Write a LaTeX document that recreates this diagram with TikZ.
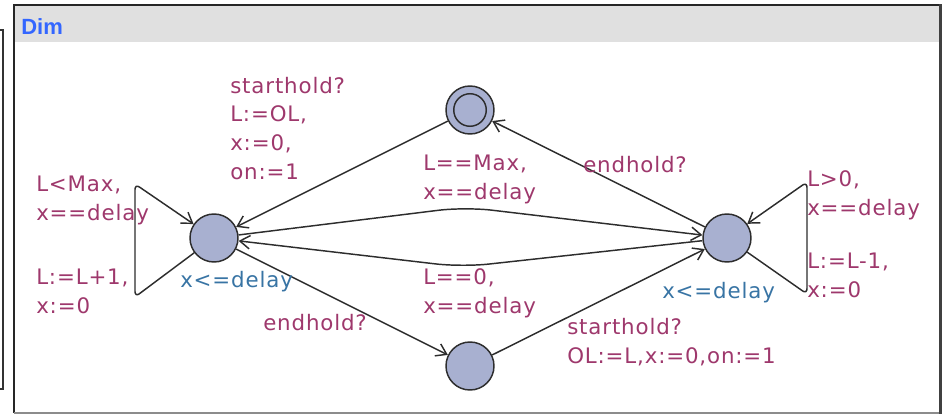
\documentclass[tikz,border=0pt]{standalone}
\usepackage{fontspec}
\setmainfont{DejaVu Sans}
\newfontfamily\lblfont{DejaVu Sans}[LetterSpace=4]
\newfontfamily\titlefont{Liberation Sans}
\usetikzlibrary{arrows.meta}

\definecolor{lblcol}{RGB}{158,56,108}
\definecolor{invcol}{RGB}{56,116,164}
\definecolor{locfill}{RGB}{168,176,208}
\definecolor{barfill}{RGB}{224,224,224}
\definecolor{titlecol}{RGB}{51,102,255}
\definecolor{linecol}{RGB}{45,45,45}

\begin{document}
\begin{tikzpicture}[x=0.75pt,y=-0.75pt,
  loc/.style={circle,draw=linecol,fill=locfill,line width=1.1pt,minimum size=36pt,inner sep=0pt},
  edge/.style={draw=linecol,line width=1.1pt,-{Straight Barb[length=7.5pt,width=10pt]}},
  lbl/.style={text=lblcol,font=\lblfont\fontsize{16}{21.5}\selectfont,align=left,inner sep=0pt,anchor=base west},
  inv/.style={text=invcol,font=\lblfont\fontsize{16}{21.5}\selectfont,inner sep=0pt,anchor=base west}]
\useasboundingbox (0,0) rectangle (946,414);

% template frame with title bar
\fill[barfill] (14,5) rectangle (941,42);
\draw[black!85,line width=1.5pt] (941,5) -- (14,5) -- (14,413);
\draw[black!45,line width=1pt] (14,413) -- (941,413);
\draw[black!75,line width=2.2pt] (940.5,4) -- (940.5,414);
% edge of the neighbouring panel
\draw[black!80,line width=1.5pt] (0,30) -- (2.5,30) -- (2.5,389) -- (0,389);
\node[anchor=base west,inner sep=0pt,text=titlecol,font=\titlefont\bfseries\fontsize{16.5}{18}\selectfont] (title) at (21,34) {Dim};

% locations
\node[loc] (L) at (214,238) {};
\node[loc] (T) at (470,110) {};
\draw[linecol,line width=1.1pt] (T.center) circle[radius=12.2pt];
\node[loc] (R) at (727,238) {};
\node[loc] (B) at (470,366) {};

% nails
\coordinate (nu) at (465,207);
\coordinate (nl) at (462,267);
\coordinate (la) at (135,297);
\coordinate (lb) at (135,184);
\coordinate (ra) at (807,294);
\coordinate (rb) at (807,182);

% transitions
\draw[edge] (T) -- (L);
\draw[edge] (R) -- (T);
\draw[edge,rounded corners=20pt] (L) -- (nu) -- (R);
\draw[edge,rounded corners=20pt] (R) -- (nl) -- (L);
\draw[edge] (L) -- (B);
\draw[edge] (B) -- (R);
\draw[edge,rounded corners=4pt] (L) -- (la) -- (lb) -- (L);
\draw[edge,rounded corners=4pt] (R) -- (ra) -- (rb) -- (R);

% labels (anchored at the baseline of their last line)
\node[lbl] (g1) at (230,179) {starthold?\\L:=OL,\\x:=0,\\on:=1};
\node[lbl] (g2) at (36,220) {L<Max,\\x==delay};
\node[lbl] (a2) at (36,313) {L:=L+1,\\x:=0};
\node[inv] (i1) at (180,287) {x<=delay};
\node[lbl] (g3) at (423,199) {L==Max,\\x==delay};
\node[lbl] (s1) at (583,172) {endhold?};
\node[lbl] (g4) at (807,215) {L>0,\\x==delay};
\node[lbl] (a4) at (807,297) {L:=L-1,\\x:=0};
\node[inv] (i2) at (662,298) {x<=delay};
\node[lbl] (g5) at (423,313) {L==0,\\x==delay};
\node[lbl] (s2) at (263,330) {endhold?};
\node[lbl] (s3) at (567,363) {starthold?\\OL:=L,x:=0,on:=1};
\end{tikzpicture}
\end{document}
